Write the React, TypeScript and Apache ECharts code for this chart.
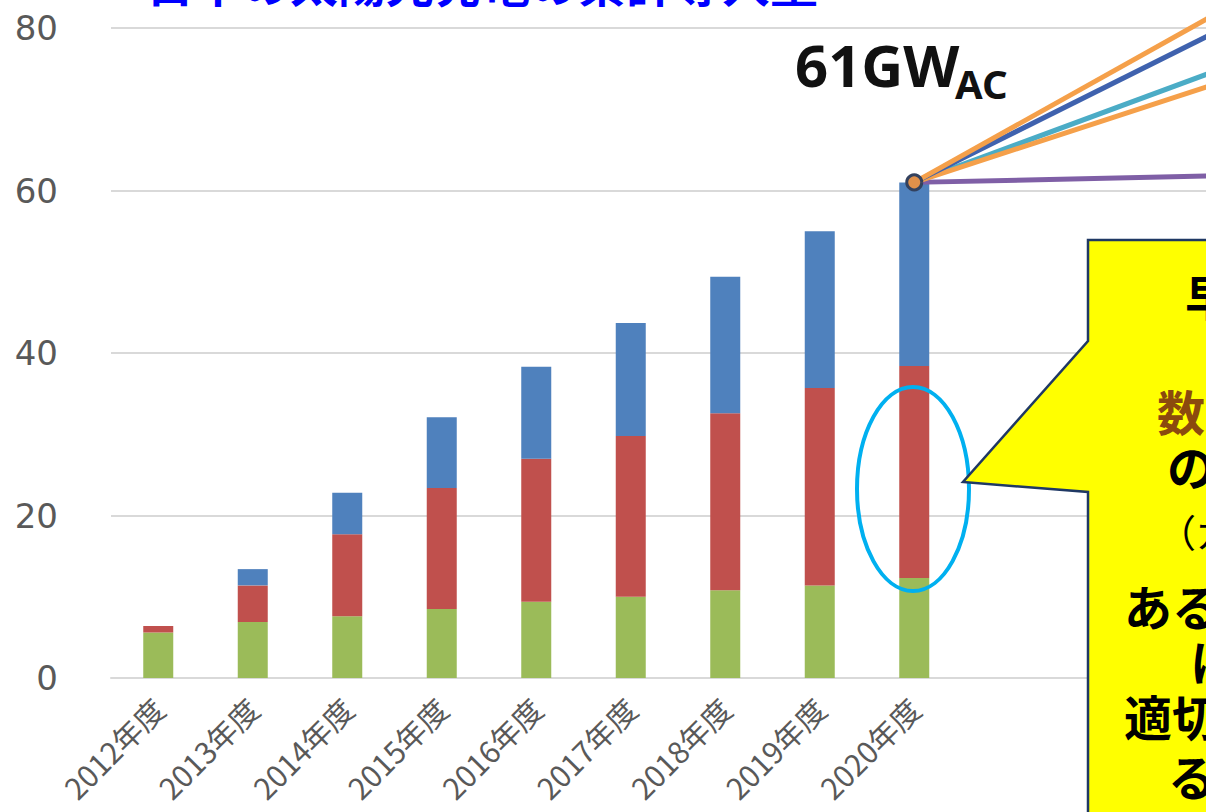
import React, { useEffect, useRef } from "react";
import * as echarts from "echarts";

// Categories (fiscal years); only 2012-2020 are labelled in the visible crop
const years = [
  "2012年度", "2013年度", "2014年度", "2015年度", "2016年度", "2017年度", "2018年度", "2019年度", "2020年度",
  "2021年度", "2022年度", "2023年度", "2024年度", "2025年度", "2026年度", "2027年度", "2028年度", "2029年度", "2030年度",
];
const labelledCount = 9;

// Stacked bar values (GW)
const greenVals = [5.6, 6.9, 7.6, 8.5, 9.4, 10.0, 10.8, 11.4, 12.3];
const redVals = [0.8, 4.5, 10.1, 14.9, 17.6, 19.8, 21.8, 24.3, 26.1];
const blueVals = [0, 2.0, 5.1, 8.7, 11.3, 13.9, 16.8, 19.3, 22.6];

// Scenario lines from 2020 (61 GW) to 2030
const start2020 = 61;
const purple2030 = 63.5;
const teal2030 = 104;
const darkBlue2030 = 119;
const orangeLow2030 = 99;
const orangeHigh2030 = 126;

const yTicks = [0, 20, 40, 60, 80];

function scenario(end: number) {
  return years.map((_, i) => (i === 8 ? start2020 : i === years.length - 1 ? end : null));
}

export default function App() {
  const ref = useRef<HTMLDivElement>(null);
  useEffect(() => {
    if (!ref.current) return;
    const chart = echarts.init(ref.current, undefined, { renderer: "svg" });
    const lineBase = (name: string, color: string, end: number, z: number) => ({
      name,
      type: "line",
      data: scenario(end),
      connectNulls: true,
      symbol: "none",
      clip: false,
      z,
      lineStyle: { color, width: 5 },
    });
    chart.setOption({
      animation: false,
      backgroundColor: "#ffffff",
      grid: { left: 111, top: 28, width: 94.5 * years.length, height: 650 },
      xAxis: {
        type: "category",
        data: years,
        axisLine: { lineStyle: { color: "#D9D9D9", width: 2 } },
        axisTick: { show: false },
        axisLabel: {
          interval: (i: number) => i < labelledCount,
          rotate: 45,
          margin: 25,
          color: "#595959",
          fontSize: 30,
          fontFamily: "Noto Sans CJK JP",
        },
      },
      yAxis: {
        type: "value",
        min: yTicks[0],
        max: yTicks[yTicks.length - 1],
        interval: 20,
        axisLine: { show: false },
        axisTick: { show: false },
        splitLine: { lineStyle: { color: "#D9D9D9", width: 2 } },
        axisLabel: { color: "#595959", fontSize: 34, fontFamily: "DejaVu Sans", margin: 53 },
      },
      series: [
        { name: "green", type: "bar", stack: "total", barWidth: 30, data: greenVals, itemStyle: { color: "#9BBB59" } },
        { name: "red", type: "bar", stack: "total", barWidth: 30, data: redVals, itemStyle: { color: "#C0504D" } },
        { name: "blue", type: "bar", stack: "total", barWidth: 30, data: blueVals, itemStyle: { color: "#4F81BD" } },
        lineBase("purple", "#7F5FA6", purple2030, 5),
        lineBase("teal", "#4BACC6", teal2030, 6),
        lineBase("orangeLow", "#F5A04A", orangeLow2030, 7),
        lineBase("darkBlue", "#3F62AE", darkBlue2030, 8),
        {
          ...lineBase("orangeHigh", "#F5A04A", orangeHigh2030, 9),
          symbol: "circle",
          symbolSize: 15,
          showSymbol: true,
          itemStyle: { color: "#E0904A", borderColor: "#33415E", borderWidth: 3 },
        },
      ],
      graphic: [
        {
          type: "text",
          z: 100,
          x: 146,
          y: -19,
          style: {
            text: "日本の太陽光発電の累計導入量",
            fill: "#0000FF",
            font: "bold 48px 'Noto Sans CJK JP'",
            verticalAlign: "middle",
          },
        },
        {
          type: "text",
          z: 100,
          x: 795,
          y: 64,
          style: { text: "61GW", fill: "#111111", font: "bold 58px 'Noto Sans'", verticalAlign: "middle" },
        },
        {
          type: "text",
          z: 100,
          x: 955,
          y: 83,
          style: { text: "AC", fill: "#111111", font: "bold 40px 'Noto Sans'", verticalAlign: "middle" },
        },
        {
          type: "ellipse",
          z: 100,
          shape: { cx: 913, cy: 489, rx: 56, ry: 102 },
          style: { fill: "none", stroke: "#00B0F0", lineWidth: 4 },
        },
        {
          type: "polygon",
          z: 100,
          shape: {
            points: [
              [1088, 240], [1300, 240], [1300, 840], [1088, 840], [1088, 492], [963, 482], [1088, 341],
            ],
          },
          style: { fill: "#FFFF00", stroke: "#1F3864", lineWidth: 2.5 },
        },
        ...[
          { t: "早", x: 1185, y: 295, c: "#000000", f: "bold 48px 'Noto Sans CJK JP'" },
          { t: "数", x: 1157, y: 410, c: "#8B4A0E", f: "bold 48px 'Noto Sans CJK JP'" },
          { t: "の", x: 1167, y: 465, c: "#000000", f: "bold 48px 'Noto Sans CJK JP'" },
          { t: "（ガ", x: 1158, y: 530, c: "#000000", f: "38px 'Noto Sans CJK JP'" },
          { t: "ある", x: 1124, y: 605, c: "#000000", f: "bold 48px 'Noto Sans CJK JP'" },
          { t: "に", x: 1190, y: 660, c: "#000000", f: "bold 48px 'Noto Sans CJK JP'" },
          { t: "適切", x: 1124, y: 715, c: "#000000", f: "bold 48px 'Noto Sans CJK JP'" },
          { t: "る", x: 1168, y: 775, c: "#000000", f: "bold 48px 'Noto Sans CJK JP'" },
        ].map((d) => ({
          type: "text",
          z: 101,
          x: d.x,
          y: d.y,
          style: { text: d.t, fill: d.c, font: d.f, verticalAlign: "middle" },
        })),
      ],
    });
    return () => chart.dispose();
  }, []);
  return (
    <div
      style={{
        position: "fixed",
        left: 0,
        top: 0,
        width: 1206,
        height: 812,
        overflow: "hidden",
        background: "#ffffff",
      }}
    >
      <div ref={ref} style={{ width: 1950, height: 812 }} />
    </div>
  );
}
